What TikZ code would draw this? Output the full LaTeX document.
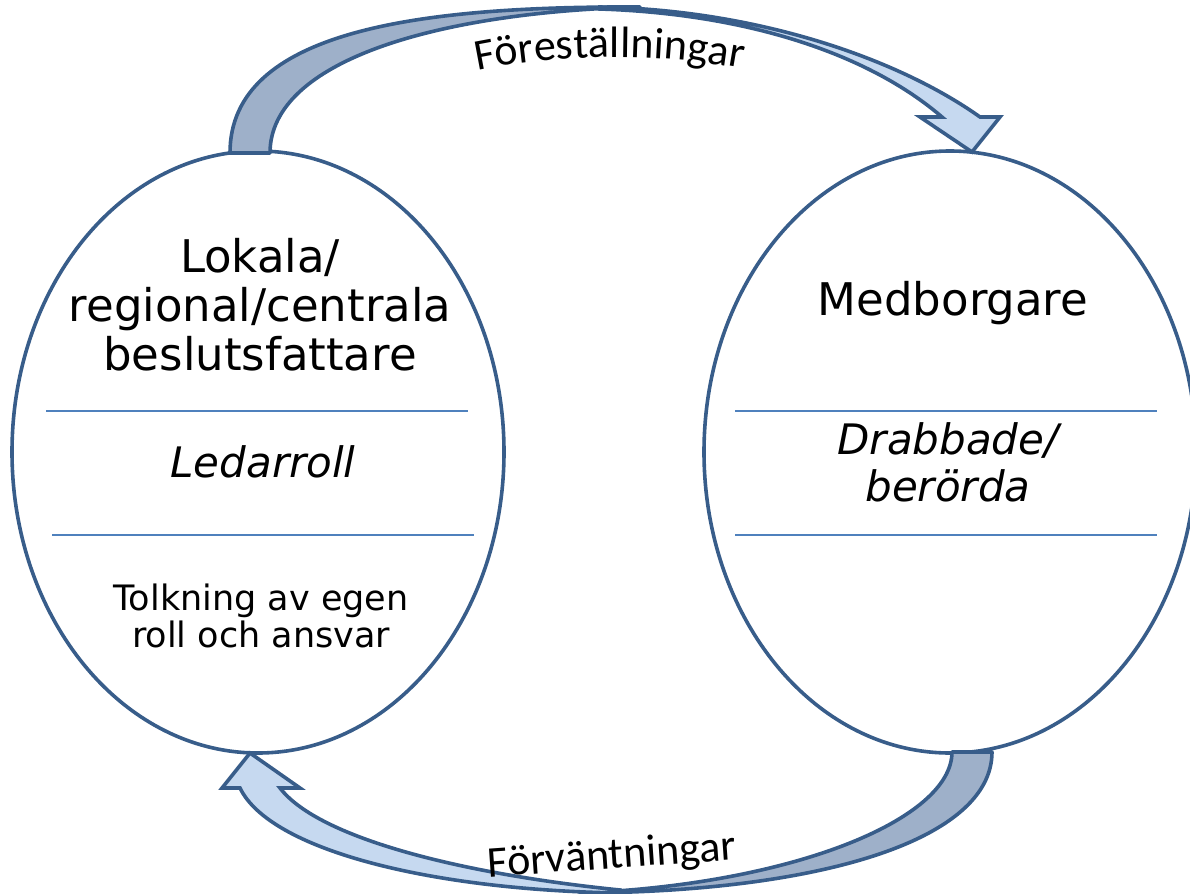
\documentclass[tikz,border=0pt]{standalone}
\usepackage{fontspec}
\setmainfont{DejaVu Sans}[ItalicFont={DejaVu Sans Oblique}]
\newfontfamily\calfont{Carlito}
\usetikzlibrary{shapes.geometric,decorations.text}
\definecolor{edgeblue}{RGB}{56,93,138}
\definecolor{lineblue}{RGB}{79,129,189}
\definecolor{backfill}{RGB}{158,176,201}
\definecolor{frontfill}{RGB}{198,217,240}
\begin{document}
\begin{tikzpicture}[x=0.5pt,y=-0.5pt,
  bubble/.style={ellipse,draw=edgeblue,line width=1.8pt,minimum width=246pt,minimum height=301pt,inner sep=0pt},
  divider/.style={draw=lineblue,line width=0.8pt},
  backpart/.style={fill=backfill,draw=edgeblue,line width=1.8pt,line join=round},
  frontpart/.style={fill=frontfill,draw=edgeblue,line width=1.8pt,line join=miter},
  maintext/.style={font=\fontsize{22.5}{24.5}\selectfont,align=center},
  roletext/.style={font=\fontsize{21}{23.5}\selectfont\itshape,align=center},
  smalltext/.style={font=\fontsize{17.5}{18.5}\selectfont,align=center},
  flowlabel/.style={font=\calfont\fontsize{22}{26}\selectfont}
]
\useasboundingbox (0,0) rectangle (1190,894);

% ellipses
\node[bubble] (left) at (258,452) {};
\node[bubble] (right) at (950,452) {};

% dividers
\coordinate (l1a) at (46,411);  \coordinate (l1b) at (468,411);
\coordinate (l2a) at (52,535);  \coordinate (l2b) at (474,535);
\coordinate (r1a) at (735,411); \coordinate (r1b) at (1157,411);
\coordinate (r2a) at (735,535); \coordinate (r2b) at (1157,535);
\draw[divider] (l1a) -- (l1b);
\draw[divider] (l2a) -- (l2b);
\draw[divider] (r1a) -- (r1b);
\draw[divider] (r2a) -- (r2b);

% texts
\node[maintext] (lefttitle) at (260,305) {Lokala/\\regional/centrala\\beslutsfattare};
\node[maintext] (righttitle) at (953,303) {Medborgare};
\node[roletext] (leftrole) at (263,462) {Ledarroll};
\node[roletext] (rightrole) at (948,462) {Drabbade/\\berörda};
\node[smalltext] (leftnote) at (261,616) {Tolkning av egen\\roll och ansvar};

% top curved arrow
\path[backpart] (230,153) .. controls (230,30) and (420,6) .. (640,7)
  .. controls (440,12) and (270,60) .. (270,153) -- cycle;
\path[frontpart] (600,7) .. controls (760,10) and (900,60) .. (980,117)
  -- (1000,117) -- (972,152) -- (920,117) -- (942,117)
  .. controls (870,55) and (750,14) .. (600,9) -- cycle;

% bottom curved arrow
\path[backpart] (992,752) .. controls (992,840) and (820,892) .. (580,893)
  .. controls (790,885) and (952,820) .. (952,752) -- cycle;
\path[frontpart] (620,893) .. controls (430,890) and (270,850) .. (240,788)
  -- (222,788) -- (250,753) -- (300,788) -- (280,788)
  .. controls (320,840) and (470,875) .. (620,890) -- cycle;

% labels
\path[decorate,decoration={text along path,text align=center,
  text={|\calfont\fontsize{22}{26}\selectfont|Föreställningar}}]
  (470,72) .. controls (555,53) and (665,53) .. (750,70);
\node[flowlabel,rotate=4] (bottomlabel) at (612,857) {Förväntningar};
\end{tikzpicture}
\end{document}
